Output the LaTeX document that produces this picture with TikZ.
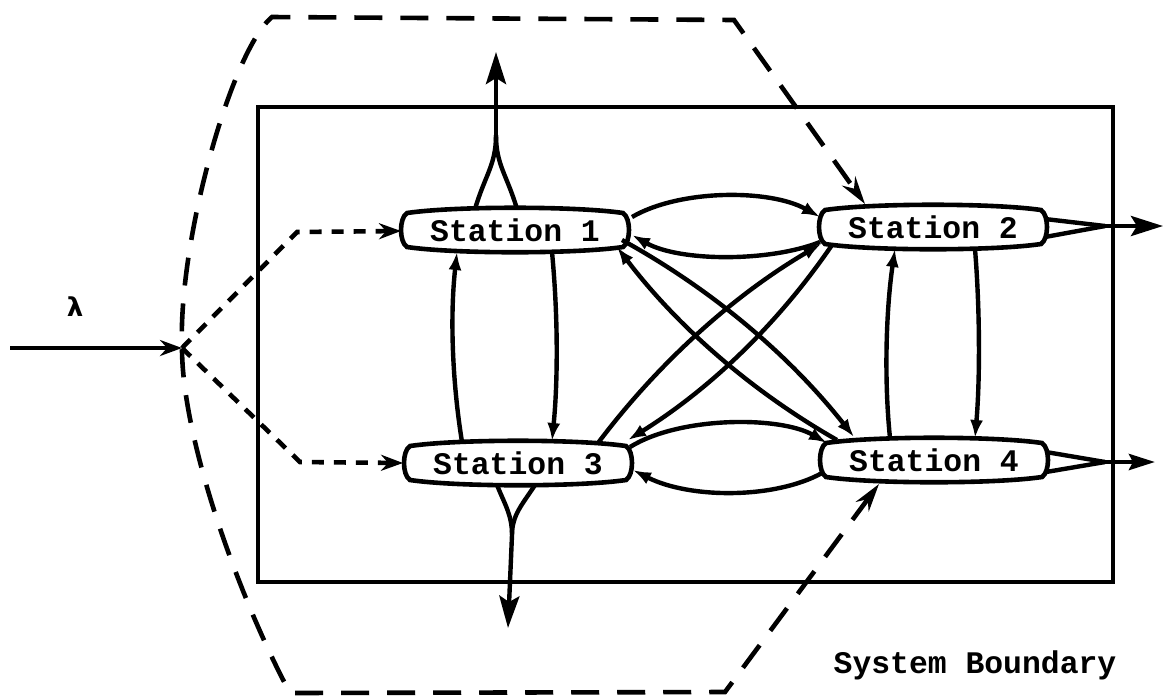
\documentclass[tikz,border=0pt]{standalone}
\usepackage{fontspec}
\newfontfamily\stfont{Liberation Mono}
\newfontfamily\lamfont{DejaVu Sans}
\usetikzlibrary{arrows.meta,calc}
\tikzset{
  ln/.style={line width=2.2pt},
  stn/.style={line width=2.3pt, fill=white},
  lbl/.style={font=\fontsize{15.7}{18}\selectfont\stfont\bfseries, inner sep=0pt},
  sarr/.style={-{Latex[length=9pt,width=6.5pt]}},
  bigarr/.style={-{Stealth[length=16pt,width=10pt,inset=3pt]}},
  darr/.style={-{Stealth[length=11pt,width=8pt]}},
  bigdash/.style={line width=2.3pt, dash pattern=on 14pt off 9pt},
  smalldash/.style={line width=2.3pt, dash pattern=on 6pt off 5pt},
}
\newcommand\stnoutline[2]{%
  \begin{scope}[shift={(#1,#2)}]
    \draw[stn] (-108,-17) .. controls (-60,-24) and (60,-24) .. (108,-17)
      .. controls (116,-12) and (116,12) .. (108,17)
      .. controls (60,24) and (-60,24) .. (-108,17)
      .. controls (-116,12) and (-116,-12) .. cycle;
  \end{scope}}
\begin{document}
\begin{tikzpicture}[x=0.5pt,y=-0.5pt]
\useasboundingbox (0,0) rectangle (1167,698);

% system rectangle
\draw[line width=2.3pt] (258,107) rectangle (1113,582);

% stations
\stnoutline{515}{230}
\stnoutline{933}{227}
\stnoutline{518}{463}
\stnoutline{934}{460}
\node[lbl] (s1) at (515,230) {Station 1};
\node[lbl] (s2) at (933,227) {Station 2};
\node[lbl] (s3) at (518,463) {Station 3};
\node[lbl] (s4) at (934,460) {Station 4};

% input
\coordinate (src) at (10,348);
\coordinate (J) at (182,348);
\draw[ln,-{Stealth[length=11pt,width=8pt]}] (src) -- (J);
\node[font=\fontsize{13}{15}\selectfont\lamfont\bfseries] (lam) at (75,307) {λ};

% dashed routing into stations 1 and 3
\draw[smalldash,darr] (J) -- (297,232) -- ($(s1)+(-114,1)$);
\draw[smalldash,darr] (J) -- (300,462) -- ($(s3)+(-115,0)$);

% outer dashed boundary
\draw[bigdash,{Stealth[length=14pt,width=8pt]}-{Stealth[length=14pt,width=8pt]}]
  ($(s4)+(-55,24)$) -- (725,692) -- (290,693)
  .. controls (240,600) and (182,440) .. (J)
  .. controls (178,240) and (232,50) .. (272,17)
  -- (734,20) -- ($(s2)+(-68,-23)$);

% outputs
\coordinate (m1) at (496,135); \coordinate (o1) at (496,52);
\draw[ln] ($(s1)+(-40,-21)$) .. controls (485,175) and (496,165) .. (m1);
\draw[ln] ($(s1)+(2,-21)$) .. controls (507,175) and (496,165) .. (m1);
\draw[ln,bigarr] (m1) -- (o1);

\coordinate (m3) at (512,535); \coordinate (o3) at (508,628);
\draw[ln] ($(s3)+(-21,22)$) .. controls (505,505) and (512,515) .. (m3);
\draw[ln] ($(s3)+(17,22)$) .. controls (522,505) and (512,515) .. (m3);
\draw[ln,bigarr] (m3) -- (o3);

\coordinate (m2) at (1105,226); \coordinate (o2) at (1163,226);
\draw[ln] ($(s2)+(112,-8)$) -- (m2);
\draw[ln] ($(s2)+(112,10)$) -- (m2);
\draw[ln,bigarr] (m2) -- (o2);

\coordinate (m4) at (1105,462); \coordinate (o4) at (1155,462);
\draw[ln] ($(s4)+(112,-8)$) -- (m4);
\draw[ln] ($(s4)+(112,12)$) -- (m4);
\draw[ln,-{Stealth[length=13pt,width=8pt,inset=2pt]}] (m4) -- (o4);

% S1 <-> S2
\draw[ln,sarr] ($(s1)+(117,-13)$) .. controls (680,189) and (770,189) .. ($(s2)+(-113,-10)$);
\draw[ln,sarr] ($(s2)+(-113,15)$) .. controls (770,262) and (680,262) .. ($(s1)+(117,5)$);
% S3 <-> S4
\draw[ln,sarr] ($(s3)+(112,-16)$) .. controls (680,416) and (780,416) .. ($(s4)+(-107,-17)$);
\draw[ln,sarr] ($(s4)+(-112,13)$) .. controls (775,499) and (690,499) .. ($(s3)+(115,7)$);
% diagonals
\draw[ln,sarr] ($(s1)+(107,10)$) .. controls (713,290) and (790,356) .. ($(s4)+(-80,-23)$);
\draw[ln,sarr] ($(s4)+(-97,-20)$) .. controls (751,391) and (677,326) .. ($(s1)+(102,17)$);
\draw[ln,sarr] ($(s3)+(80,-20)$) .. controls (659,362) and (734,295) .. ($(s2)+(-112,17)$);
\draw[ln,sarr] ($(s2)+(-101,18)$) .. controls (778,324) and (710,389) .. ($(s3)+(110,-23)$);
% verticals
\draw[ln,sarr] ($(s3)+(-56,-21)$) .. controls (452,380) and (450,315) .. ($(s1)+(-58,22)$);
\draw[ln,sarr] ($(s1)+(37,22)$) .. controls (558,315) and (558,380) .. ($(s3)+(34,-22)$);
\draw[ln,sarr] ($(s4)+(-44,-22)$) .. controls (884,380) and (886,310) .. ($(s2)+(-38,22)$);
\draw[ln,sarr] ($(s2)+(42,22)$) .. controls (980,310) and (980,380) .. ($(s4)+(41,-22)$);

% label
\node[lbl,anchor=base] (sb) at (975,673) {System Boundary};
\end{tikzpicture}
\end{document}
